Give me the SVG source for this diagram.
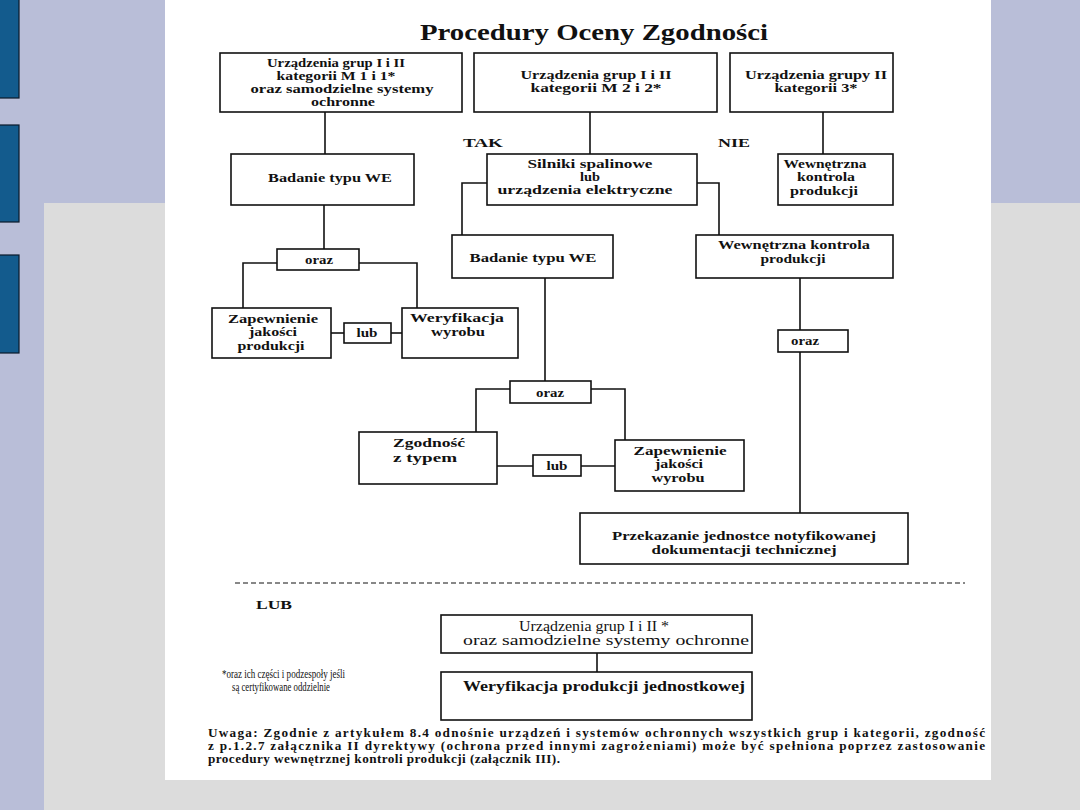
<svg xmlns="http://www.w3.org/2000/svg" width="1080" height="810" viewBox="0 0 1080 810">
<style>
.bx{fill:#fff;stroke:#111;stroke-width:1.6}
.sm{fill:#fff;stroke:#111;stroke-width:1.6}
.t{font-family:"Liberation Serif","Times New Roman",serif;font-weight:bold;font-size:13.5px;fill:#111;text-anchor:middle}
.a{font-size:12px}
.r{font-family:"Liberation Serif","Times New Roman",serif;font-size:14px;fill:#111;text-anchor:middle}
.c line,.c polyline{stroke:#111;stroke-width:1.6;fill:none}
.n{font-family:"Liberation Serif","Times New Roman",serif;font-size:13.2px;fill:#111}
</style>
<rect x="0" y="0" width="1080" height="810" fill="#b9bed8"/>
<rect x="44" y="203" width="1036" height="607" fill="#dcdcdc"/>
<g id="sidebar" fill="#135b8d" stroke="#0a1a2a" stroke-width="1.2">
<rect x="-2" y="-2" width="21" height="100"/>
<rect x="-2" y="125" width="21" height="97"/>
<rect x="-2" y="255" width="21" height="98"/>
</g>
<rect x="165" y="0" width="826" height="780" fill="#fff"/>
<text x="594" y="40" font-family="Liberation Serif, serif" font-weight="bold" font-size="23" text-anchor="middle" textLength="348" lengthAdjust="spacingAndGlyphs" fill="#111">Procedury Oceny Zgodności</text>

<g class="c" id="connectors">
<line x1="325" y1="112" x2="325" y2="154"/>
<line x1="590" y1="112" x2="590" y2="154"/>
<line x1="823" y1="112" x2="823" y2="154"/>
<polyline points="487,183 462,183 462,235"/>
<polyline points="697,183 719,183 719,235"/>
<line x1="324" y1="205" x2="324" y2="249"/>
<polyline points="277,263 243,263 243,308"/>
<polyline points="359,263 417,263 417,308"/>
<line x1="331" y1="333" x2="344" y2="333"/>
<line x1="391" y1="333" x2="402" y2="333"/>
<line x1="545" y1="278" x2="545" y2="381"/>
<polyline points="510,389 476,389 476,432"/>
<polyline points="591,389 625,389 625,440"/>
<line x1="497" y1="466" x2="533" y2="466"/>
<line x1="581" y1="466" x2="615" y2="466"/>
<line x1="800" y1="278" x2="800" y2="330"/>
<line x1="800" y1="352" x2="800" y2="513"/>
<line x1="597" y1="653" x2="597" y2="672"/>
<line x1="235" y1="583" x2="965" y2="583" stroke-dasharray="5,3" style="stroke-width:1"/>
</g>

<g id="nA"><rect class="bx" x="220" y="53" width="242" height="59"/>
<text class="t a" x="336" y="67" textLength="138" lengthAdjust="spacingAndGlyphs">Urządzenia grup I i II</text>
<text class="t a" x="336" y="80" textLength="119" lengthAdjust="spacingAndGlyphs">kategorii M 1 i 1*</text>
<text class="t a" x="342" y="93" textLength="183" lengthAdjust="spacingAndGlyphs">oraz samodzielne systemy</text>
<text class="t a" x="343" y="106" textLength="64" lengthAdjust="spacingAndGlyphs">ochronne</text></g>
<g id="nB"><rect class="bx" x="474" y="53" width="243" height="59"/>
<text class="t" x="596" y="79" textLength="151" lengthAdjust="spacingAndGlyphs">Urządzenia grup I i II</text>
<text class="t" x="596" y="92" textLength="131" lengthAdjust="spacingAndGlyphs">kategorii M 2 i 2*</text></g>
<g id="nC"><rect class="bx" x="730" y="53" width="163" height="59"/>
<text class="t" x="816" y="79" textLength="142" lengthAdjust="spacingAndGlyphs">Urządzenia grupy II</text>
<text class="t" x="816" y="92" textLength="83" lengthAdjust="spacingAndGlyphs">kategorii 3*</text></g>
<text class="t" x="483" y="147" textLength="40" lengthAdjust="spacingAndGlyphs">TAK</text>
<text class="t" x="734" y="147" textLength="32" lengthAdjust="spacingAndGlyphs">NIE</text>

<g id="nBadanie1"><rect class="bx" x="231" y="154" width="183" height="51"/>
<text class="t" x="330" y="182" textLength="124" lengthAdjust="spacingAndGlyphs">Badanie typu WE</text></g>
<g id="nSilniki"><rect class="bx" x="487" y="154" width="210" height="51"/>
<text class="t" x="590" y="168" textLength="125" lengthAdjust="spacingAndGlyphs">Silniki spalinowe</text>
<text class="t" x="590" y="181" textLength="20" lengthAdjust="spacingAndGlyphs">lub</text>
<text class="t" x="585" y="194" textLength="175" lengthAdjust="spacingAndGlyphs">urządzenia elektryczne</text></g>
<g id="nWKP1"><rect class="bx" x="778" y="154" width="115" height="51"/>
<text class="t" x="825" y="168" textLength="83" lengthAdjust="spacingAndGlyphs">Wewnętrzna</text>
<text class="t" x="826" y="181" textLength="58" lengthAdjust="spacingAndGlyphs">kontrola</text>
<text class="t" x="824" y="195" textLength="68" lengthAdjust="spacingAndGlyphs">produkcji</text></g>

<g id="nBadanie2"><rect class="bx" x="452" y="235" width="161" height="43"/>
<text class="t" x="533" y="262" textLength="127" lengthAdjust="spacingAndGlyphs">Badanie typu WE</text></g>
<g id="nWKP2"><rect class="bx" x="696" y="235" width="197" height="43"/>
<text class="t" x="794" y="249" textLength="152" lengthAdjust="spacingAndGlyphs">Wewnętrzna kontrola</text>
<text class="t" x="793" y="263" textLength="65" lengthAdjust="spacingAndGlyphs">produkcji</text></g>

<g id="nOraz1"><rect class="sm" x="277" y="249" width="82" height="21"/>
<text class="t" x="319" y="264" textLength="28" lengthAdjust="spacingAndGlyphs">oraz</text></g>
<g id="nZap1"><rect class="bx" x="212" y="308" width="119" height="50"/>
<text class="t" x="273" y="323" textLength="90" lengthAdjust="spacingAndGlyphs">Zapewnienie</text>
<text class="t" x="273" y="336" textLength="48" lengthAdjust="spacingAndGlyphs">jakości</text>
<text class="t" x="271" y="350" textLength="67" lengthAdjust="spacingAndGlyphs">produkcji</text></g>
<g id="nLub1"><rect class="sm" x="344" y="323" width="47" height="20"/>
<text class="t" x="367" y="337" textLength="21" lengthAdjust="spacingAndGlyphs">lub</text></g>
<g id="nWer1"><rect class="bx" x="402" y="308" width="116" height="50"/>
<text class="t" x="457" y="322" textLength="94" lengthAdjust="spacingAndGlyphs">Weryfikacja</text>
<text class="t" x="458" y="336" textLength="54" lengthAdjust="spacingAndGlyphs">wyrobu</text></g>

<g id="nOraz2"><rect class="sm" x="510" y="381" width="81" height="22"/>
<text class="t" x="550" y="397" textLength="28" lengthAdjust="spacingAndGlyphs">oraz</text></g>
<g id="nZgod"><rect class="bx" x="359" y="432" width="138" height="52"/>
<text class="t" x="429" y="447" textLength="72" lengthAdjust="spacingAndGlyphs">Zgodność</text>
<text class="t" x="425" y="462" textLength="64" lengthAdjust="spacingAndGlyphs">z typem</text></g>
<g id="nLub2"><rect class="sm" x="533" y="455" width="48" height="21"/>
<text class="t" x="557" y="470" textLength="21" lengthAdjust="spacingAndGlyphs">lub</text></g>
<g id="nZap2"><rect class="bx" x="615" y="440" width="129" height="51"/>
<text class="t" x="680" y="455" textLength="93" lengthAdjust="spacingAndGlyphs">Zapewnienie</text>
<text class="t" x="679" y="468" textLength="48" lengthAdjust="spacingAndGlyphs">jakości</text>
<text class="t" x="678" y="482" textLength="53" lengthAdjust="spacingAndGlyphs">wyrobu</text></g>

<g id="nOraz3"><rect class="sm" x="778" y="330" width="70" height="22"/>
<text class="t" x="805" y="345" textLength="28" lengthAdjust="spacingAndGlyphs">oraz</text></g>
<g id="nPrzek"><rect class="bx" x="580" y="513" width="328" height="51"/>
<text class="t" x="744" y="540" textLength="264" lengthAdjust="spacingAndGlyphs">Przekazanie jednostce notyfikowanej</text>
<text class="t" x="744" y="554" textLength="185" lengthAdjust="spacingAndGlyphs">dokumentacji technicznej</text></g>

<text class="t" x="274" y="609" textLength="36" lengthAdjust="spacingAndGlyphs">LUB</text>
<g id="nUrzAll"><rect class="bx" x="441" y="615" width="311" height="38"/>
<text class="r" x="594" y="631" textLength="150" lengthAdjust="spacingAndGlyphs">Urządzenia grup I i II *</text>
<text class="r" x="606" y="645" textLength="286" lengthAdjust="spacingAndGlyphs">oraz samodzielne systemy ochronne</text></g>
<g id="nWerJedn"><rect class="bx" x="441" y="672" width="311" height="48"/>
<text class="r" x="604" y="691" font-weight="bold" textLength="282" lengthAdjust="spacingAndGlyphs">Weryfikacja produkcji jednostkowej</text></g>

<text class="n" x="222" y="678" font-size="9.5" textLength="123" lengthAdjust="spacingAndGlyphs">*oraz ich części i podzespoły jeśli</text>
<text class="n" x="232" y="691" font-size="9.5" textLength="98" lengthAdjust="spacingAndGlyphs">są certyfikowane oddzielnie</text>

<text class="n" x="208" y="737" font-weight="bold" textLength="777" lengthAdjust="spacing">Uwaga: Zgodnie z artykułem 8.4 odnośnie urządzeń i systemów ochronnych wszystkich grup i kategorii, zgodność</text>
<text class="n" x="208" y="750" font-weight="bold" textLength="777" lengthAdjust="spacing">z p.1.2.7 załącznika II dyrektywy (ochrona przed innymi zagrożeniami) może być spełniona poprzez zastosowanie</text>
<text class="n" x="208" y="763" font-weight="bold" textLength="352" lengthAdjust="spacing">procedury wewnętrznej kontroli produkcji (załącznik III).</text>
</svg>
